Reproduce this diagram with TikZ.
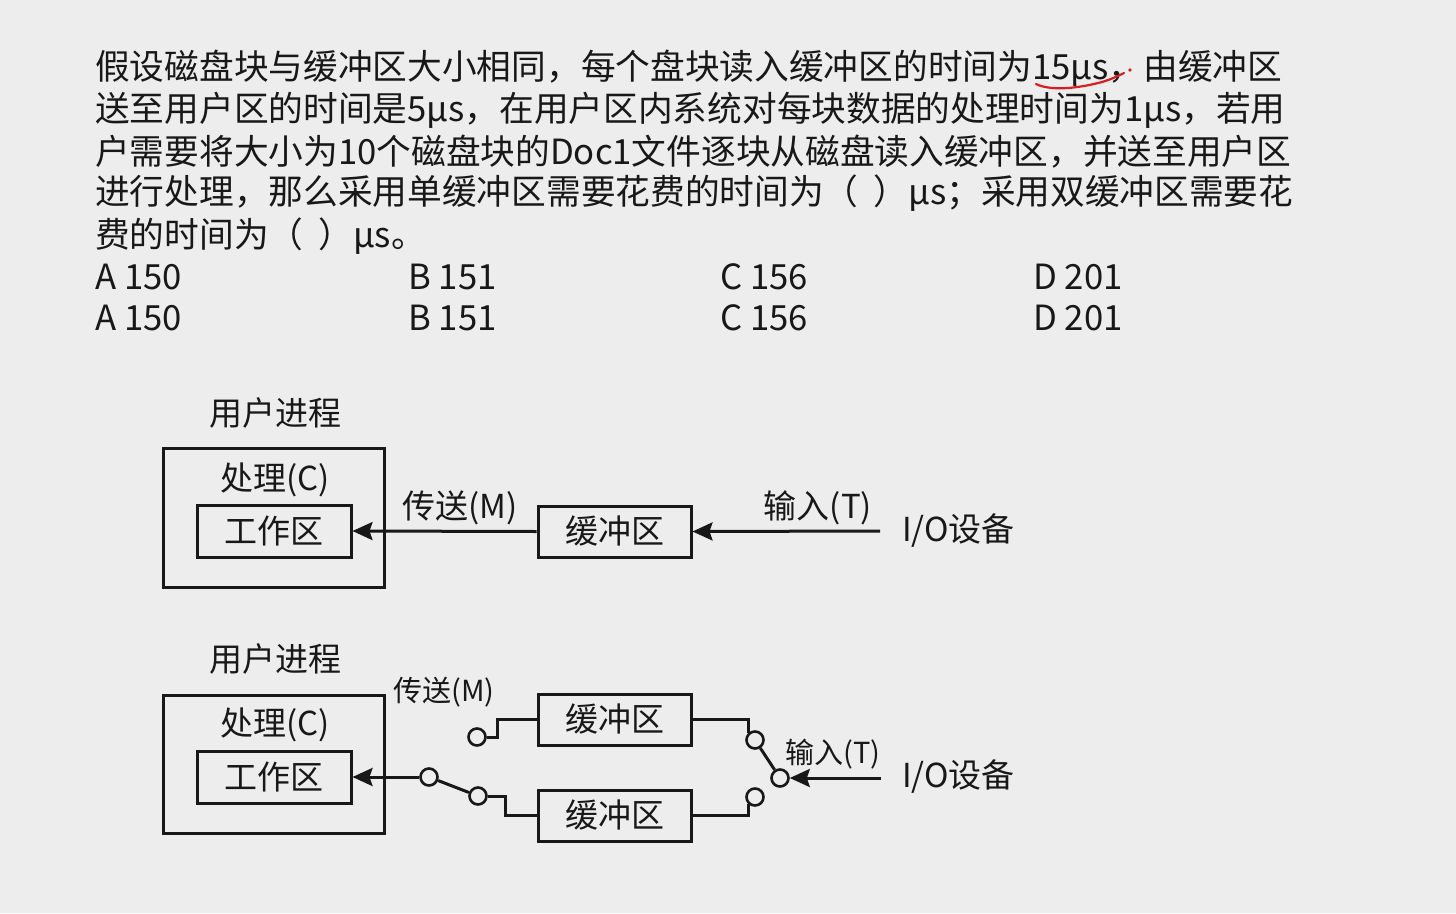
\documentclass[tikz,border=0pt]{standalone}
\usepackage{fontspec}
\setmainfont{Noto Sans CJK SC}
\usetikzlibrary{arrows.meta}
\definecolor{bgc}{RGB}{237,237,237}
\definecolor{ink}{RGB}{24,24,24}
\definecolor{pen}{RGB}{215,30,35}
\begin{document}
\begin{tikzpicture}[x=1pt,y=-1pt,
  txt/.style={font=\fontsize{34.7}{35}\selectfont, anchor=west, inner sep=0, text=ink},
  lbl/.style={font=\fontsize{33}{33}\selectfont, inner sep=0, text=ink},
  slbl/.style={font=\fontsize{29}{29}\selectfont, inner sep=0, text=ink},
  box/.style={draw=ink, line width=3pt, inner sep=0, fill=bgc},
  wire/.style={draw=ink, line width=3pt},
  arr/.style={wire, -{Stealth[length=20pt, width=18pt, inset=3pt]}},
  sw/.style={circle, draw=ink, line width=2.6pt, fill=bgc, minimum size=17pt, inner sep=0}
]
\fill[bgc] (0,0) rectangle (1456,913);
\useasboundingbox (0,0) rectangle (1456,913);

% question text
\node[txt] (l1) at (95,68) {假设磁盘块与缓冲区大小相同，每个盘块读入缓冲区的时间为15μs，由缓冲区};
\node[txt] (l2) at (95,110) {送至用户区的时间是5μs，在用户区内系统对每块数据的处理时间为1μs，若用};
\node[txt] (l3) at (95,152) {户需要将大小为10个磁盘块的Doc1文件逐块从磁盘读入缓冲区，并送至用户区};
\node[txt] (l4) at (95,193) {进行处理，那么采用单缓冲区需要花费的时间为（\hspace{15pt}）μs；采用双缓冲区需要花};
\node[txt] (l5) at (95,236) {费的时间为（\hspace{15pt}）μs。};
\node[txt] (oa1) at (95,277) {A 150};
\node[txt] (ob1) at (408,277) {B 151};
\node[txt] (oc1) at (720,277) {C 156};
\node[txt] (od1) at (1033,277) {D 201};
\node[txt] (oa2) at (95,318) {A 150};
\node[txt] (ob2) at (408,318) {B 151};
\node[txt] (oc2) at (720,318) {C 156};
\node[txt] (od2) at (1033,318) {D 201};

% red annotation
\draw[pen, line width=2.2pt, line cap=round] (1036,84) .. controls (1048,90) and (1072,90) .. (1102,82) .. controls (1112,79) and (1118,76) .. (1124,73);
\fill[pen] (1130,70) circle (1.8pt);

% ---- diagram 1: single buffer
\node[lbl] (up1) at (275,413) {用户进程};
\node[box, minimum width=221pt, minimum height=139pt] (outer1) at (273.5,517.5) {};
\node[lbl] (c1) at (275,480) {处理(C)};
\node[box, minimum width=154pt, minimum height=52pt, font=\fontsize{33}{33}\selectfont, text=ink] (work1) at (274,531) {工作区};
\node[box, minimum width=153pt, minimum height=51pt, font=\fontsize{33}{33}\selectfont, text=ink] (buf1) at (614.5,531.5) {缓冲区};
\draw[arr] (buf1.west) -- (work1.east);
\node[lbl] (m1) at (460,508) {传送(M)};
\coordinate (io1) at (880,531);
\draw[arr] (io1) -- (buf1.east);
\node[lbl] (t1) at (818,508) {输入(T)};
\node[lbl, anchor=west] (dev1) at (902,531) {I/O设备};

% ---- diagram 2: double buffer
\node[lbl] (up2) at (275,659) {用户进程};
\node[box, minimum width=221pt, minimum height=138pt] (outer2) at (273.5,764) {};
\node[lbl] (c2) at (275,725) {处理(C)};
\node[box, minimum width=154pt, minimum height=52pt, font=\fontsize{33}{33}\selectfont, text=ink] (work2) at (274,777) {工作区};
\node[box, minimum width=153pt, minimum height=51pt, font=\fontsize{33}{33}\selectfont, text=ink] (bufA) at (614.5,719.5) {缓冲区};
\node[box, minimum width=153pt, minimum height=51pt, font=\fontsize{33}{33}\selectfont, text=ink] (bufB) at (614.5,815.5) {缓冲区};

\node[sw] (s1) at (429,777) {};
\node[sw] (sA) at (477,737) {};
\node[sw] (sB) at (478,796) {};
\node[sw] (rA) at (755,740) {};
\node[sw] (rB) at (755,797) {};
\node[sw] (rC) at (780,778) {};

\draw[arr] (s1.west) -- (work2.east);
\draw[wire] (s1) -- (sB);
\draw[wire] (sA.east) -- ++(11,0) |- (bufA.west);
\draw[wire] (sB.east) -- ++(18,0) |- (bufB.west);
\draw[wire] (bufA.east) -| (rA.north west);
\draw[wire] (bufB.east) -| (rB.south west);
\draw[wire] (rC) -- (rA);
\coordinate (io2) at (881,778);
\draw[arr] (io2) -- (rC.east);

\node[slbl] (m2) at (444,692) {传送(M)};
\node[slbl] (t2) at (833,754) {输入(T)};
\node[lbl, anchor=west] (dev2) at (902,777) {I/O设备};
\end{tikzpicture}
\end{document}
